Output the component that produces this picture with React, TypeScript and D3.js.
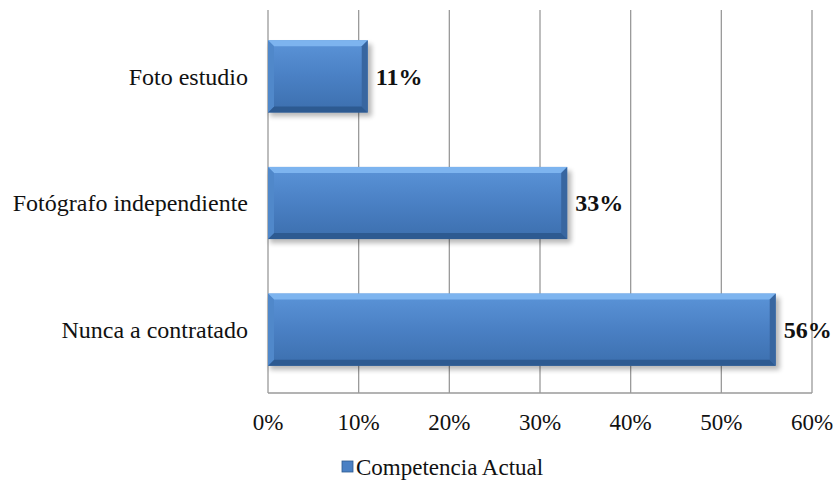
import React from "react";
import * as d3 from "d3";

const categories = ["Foto estudio", "Fotógrafo independiente", "Nunca a contratado"];
const values = [11, 33, 56];
const ticks = [0, 10, 20, 30, 40, 50, 60];
const seriesName = "Competencia Actual";

export default function App() {
  const W = 837, H = 482;
  const left = 268, right = 812, top = 10, bottom = 393;
  const x = d3.scaleLinear().domain([0, 60]).range([left, right]);
  const y = d3.scaleBand<string>().domain(categories).range([top + 3, bottom]).paddingInner(0.43).paddingOuter(0.215);
  const font = "'Liberation Serif', 'Times New Roman', serif";
  const bw = y.bandwidth();
  const bev = 6;
  return (
    <div style={{ position: "absolute", left: 0, top: 0 }}>
      <svg width={W} height={H} style={{ display: "block", background: "#fff" }}>
        <defs>
          <linearGradient id="face" x1="0" y1="0" x2="0" y2="1">
            <stop offset="0" stopColor="#5b94d8" />
            <stop offset="0.5" stopColor="#4a80c4" />
            <stop offset="1" stopColor="#3c6fae" />
          </linearGradient>
          <filter id="sh" x="-10%" y="-20%" width="130%" height="160%">
            <feGaussianBlur stdDeviation="2.5" />
          </filter>
        </defs>
        {ticks.map((t) => (
          <line key={t} x1={x(t)} x2={x(t)} y1={top} y2={bottom} stroke="#9a9a9a" strokeWidth={1.3} />
        ))}
        <line x1={left} x2={right} y1={bottom} y2={bottom} stroke="#9a9a9a" strokeWidth={1.5} />
        {categories.map((c, i) => {
          const y0 = y(c)!;
          const x0 = x(0);
          const x1 = x(values[i]);
          const y1 = y0 + bw;
          return (
            <g key={c}>
              <rect x={x0 + 2} y={y0 + 4} width={x1 - x0 + 2} height={bw} fill="#000" opacity={0.28} filter="url(#sh)" />
              <rect x={x0} y={y0} width={x1 - x0} height={bw} fill="url(#face)" />
              <polygon points={`${x0},${y0} ${x1},${y0} ${x1 - bev},${y0 + bev} ${x0 + bev},${y0 + bev}`} fill="#7db4ef" />
              <polygon points={`${x0},${y1} ${x1},${y1} ${x1 - bev},${y1 - bev} ${x0 + bev},${y1 - bev}`} fill="#2d5a91" />
              <polygon points={`${x0},${y0} ${x0 + bev},${y0 + bev} ${x0 + bev},${y1 - bev} ${x0},${y1}`} fill="#5088ca" />
              <polygon points={`${x1},${y0} ${x1 - bev},${y0 + bev} ${x1 - bev},${y1 - bev} ${x1},${y1}`} fill="#3866a0" />
              <text x={x1 + 8} y={y0 + bw / 2} dy="0.35em" fontFamily={font} fontWeight="bold" fontSize={24} fill="#111">
                {values[i]}%
              </text>
              <text x={left - 20} y={y0 + bw / 2} dy="0.35em" textAnchor="end" fontFamily={font} fontSize={24} fill="#111">
                {c}
              </text>
            </g>
          );
        })}
        {ticks.map((t) => (
          <text key={t} x={x(t)} y={422} dy="0.35em" textAnchor="middle" fontFamily={font} fontSize={23} fill="#111">
            {t}%
          </text>
        ))}
        <rect x={342} y={461} width={11} height={11} fill="#4a80c4" stroke="#2d5a91" strokeWidth={0.8} />
        <text x={356} y={467} dy="0.35em" fontFamily={font} fontSize={23} fill="#111">
          {seriesName}
        </text>
      </svg>
    </div>
  );
}
